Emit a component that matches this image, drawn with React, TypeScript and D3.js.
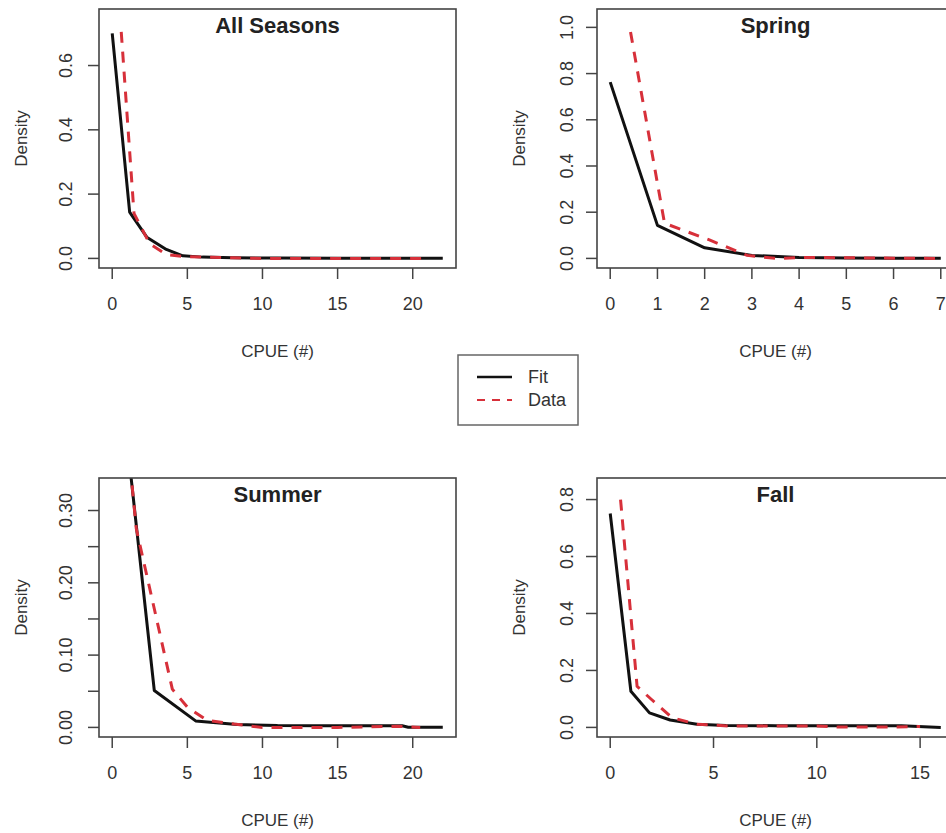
import React from 'react';
import * as d3 from 'd3';

const allFitX = [0, 1.16, 2.3, 3.6, 4.7, 6, 8, 11, 15, 22];
const allFitY = [0.7, 0.144, 0.066, 0.028, 0.008, 0.004, 0.002, 0.001, 0.0005, 0.0003];
const allDataX = [0.6, 1.45, 2.5, 3.6, 4.7, 6, 8, 10, 13, 17, 21];
const allDataY = [0.705, 0.14, 0.045, 0.012, 0.006, 0.004, 0.002, 0, 0, 0, 0];

const springFitX = [0, 1, 2, 3, 4, 5, 6, 7];
const springFitY = [0.763, 0.143, 0.046, 0.013, 0.004, 0.002, 0.001, 0.0005];
const springDataX = [0.43, 1.15, 2.1, 2.9, 3.5, 4.2, 5, 6, 7];
const springDataY = [0.98, 0.152, 0.08, 0.013, 0, 0.004, 0.003, 0.001, 0];

const summerFitX = [0, 2.8, 5.55, 8.3, 11, 13.8, 16.5, 19.3, 19.7, 22];
const summerFitY = [0.585, 0.051, 0.009, 0.004, 0.0025, 0.0023, 0.0023, 0.0023, 0.0003, 0.0003];
const summerDataX = [0.55, 1.6, 4.0, 5.0, 6.3, 8.1, 10, 12, 15, 19, 20.5];
const summerDataY = [0.5, 0.275, 0.053, 0.028, 0.01, 0.0046, 0, 0, 0, 0.0015, 0];

const fallFitX = [0, 1, 1.9, 2.9, 4.2, 5.6, 8, 10, 12, 14.1, 16];
const fallFitY = [0.751, 0.127, 0.051, 0.026, 0.011, 0.007, 0.006, 0.006, 0.006, 0.006, 0];
const fallDataX = [0.5, 1.3, 2.0, 3.0, 4.2, 5.7, 8, 10, 11, 13, 15];
const fallDataY = [0.8, 0.144, 0.098, 0.034, 0.011, 0.005, 0.005, 0.005, 0.001, 0.001, 0.003];

const wideXTicks = [0, 5, 10, 15, 20];
const springXTicks = [0, 1, 2, 3, 4, 5, 6, 7];
const fallXTicks = [0, 5, 10, 15];
const allYTicks = [0, 0.2, 0.4, 0.6];
const springYTicks = [0, 0.2, 0.4, 0.6, 0.8, 1.0];
const summerYTicks = [0, 0.05, 0.1, 0.15, 0.2, 0.25, 0.3];
const summerYLabels = [0, 0.1, 0.2, 0.3];
const fallYTicks = [0, 0.2, 0.4, 0.6, 0.8];

const legendLabels = ['Fit', 'Data'];

const RED = '#d7303a';
const FONT = '"Liberation Sans", Arial, sans-serif';
const W = 357;
const H = 259;

const panels = [
  { id: 'p1', title: 'All Seasons', left: 99, top: 9, xlim: [0, 22], ylim: [0, 0.746],
    fitX: allFitX, fitY: allFitY, dataX: allDataX, dataY: allDataY,
    xTicks: wideXTicks, yTicks: allYTicks, yLabels: allYTicks, fmt: '.1f', lab: 33.5 },
  { id: 'p2', title: 'Spring', left: 597, top: 9, xlim: [0, 7], ylim: [0, 1.038],
    fitX: springFitX, fitY: springFitY, dataX: springDataX, dataY: springDataY,
    xTicks: springXTicks, yTicks: springYTicks, yLabels: springYTicks, fmt: '.1f', lab: 30 },
  { id: 'p3', title: 'Summer', left: 99, top: 478, xlim: [0, 22], ylim: [0, 0.3317],
    fitX: summerFitX, fitY: summerFitY, dataX: summerDataX, dataY: summerDataY,
    xTicks: wideXTicks, yTicks: summerYTicks, yLabels: summerYLabels, fmt: '.2f', lab: 33.5 },
  { id: 'p4', title: 'Fall', left: 597, top: 478, xlim: [0, 16], ylim: [0, 0.842],
    fitX: fallFitX, fitY: fallFitY, dataX: fallDataX, dataY: fallDataY,
    xTicks: fallXTicks, yTicks: fallYTicks, yLabels: fallYTicks, fmt: '.1f', lab: 30 },
];

function Panel({ p }: { p: any }) {
  const xr = p.xlim[1] - p.xlim[0];
  const yr = p.ylim[1] - p.ylim[0];
  // R style 4% padding
  const x = d3.scaleLinear().domain([p.xlim[0] - 0.04 * xr, p.xlim[1] + 0.04 * xr]).range([p.left, p.left + W]);
  const y = d3.scaleLinear().domain([p.ylim[0] - 0.04 * yr, p.ylim[1] + 0.04 * yr]).range([p.top + H, p.top]);
  const line = d3.line<[number, number]>().x(d => x(d[0])).y(d => y(d[1]));
  const fit = d3.zip(p.fitX, p.fitY) as [number, number][];
  const dat = d3.zip(p.dataX, p.dataY) as [number, number][];
  const fmt = d3.format(p.fmt);
  const bottom = p.top + H;
  const cx = p.left + W / 2;

  return (
    <g>
      <clipPath id={'clip-' + p.id}>
        <rect x={p.left} y={p.top} width={W} height={H} />
      </clipPath>
      <g clipPath={`url(#clip-${p.id})`}>
        <path d={line(fit) || ''} fill="none" stroke="#111" strokeWidth={3} strokeLinejoin="round" />
        <path d={line(dat) || ''} fill="none" stroke={RED} strokeWidth={3} strokeDasharray="11,9" />
      </g>
      <rect x={p.left} y={p.top} width={W} height={H} fill="none" stroke="#444" strokeWidth={1.6} />
      {p.xTicks.map((t: number) => (
        <g key={'x' + t}>
          <line x1={x(t)} x2={x(t)} y1={bottom} y2={bottom + 11} stroke="#444" strokeWidth={1.5} />
          <text x={x(t)} y={bottom + 42} textAnchor="middle" fontSize={18} fill="#333">{t}</text>
        </g>
      ))}
      {p.yTicks.map((t: number) => (
        <line key={'y' + t} x1={p.left - 11} x2={p.left} y1={y(t)} y2={y(t)} stroke="#444" strokeWidth={1.5} />
      ))}
      {p.yLabels.map((t: number) => (
        <text key={'yl' + t} transform={`translate(${p.left - p.lab},${y(t)}) rotate(-90)`}
          textAnchor="middle" dominantBaseline="central" fontSize={18} fill="#333">{fmt(t)}</text>
      ))}
      <text transform={`translate(${p.left - 78},${p.top + H / 2}) rotate(-90)`} textAnchor="middle"
        dominantBaseline="central" fontSize={17} fill="#333">Density</text>
      <text x={cx} y={bottom + 89} textAnchor="middle" fontSize={17} fill="#333">CPUE (#)</text>
      <text x={cx} y={p.top + 16} textAnchor="middle" dominantBaseline="central" fontSize={22}
        fontWeight="bold" fill="#222">{p.title}</text>
    </g>
  );
}

export default function App() {
  return (
    <svg width={946} height={833} style={{ position: 'absolute', left: 0, top: 0, background: '#fff' }}
      fontFamily={FONT}>
      {panels.map(p => <Panel key={p.id} p={p} />)}
      <g>
        <rect x={458} y={355} width={120} height={70} fill="#fff" stroke="#666" strokeWidth={1.5} />
        {legendLabels.map((l, i) => (
          <g key={l}>
            <line x1={477} x2={512} y1={377 + i * 23} y2={377 + i * 23}
              stroke={i === 0 ? '#111' : RED} strokeWidth={i === 0 ? 2.5 : 2} strokeDasharray={i === 0 ? undefined : '8,7'} />
            <text x={528} y={377 + i * 23} dominantBaseline="central" fontSize={18} fill="#333">{l}</text>
          </g>
        ))}
      </g>
    </svg>
  );
}
